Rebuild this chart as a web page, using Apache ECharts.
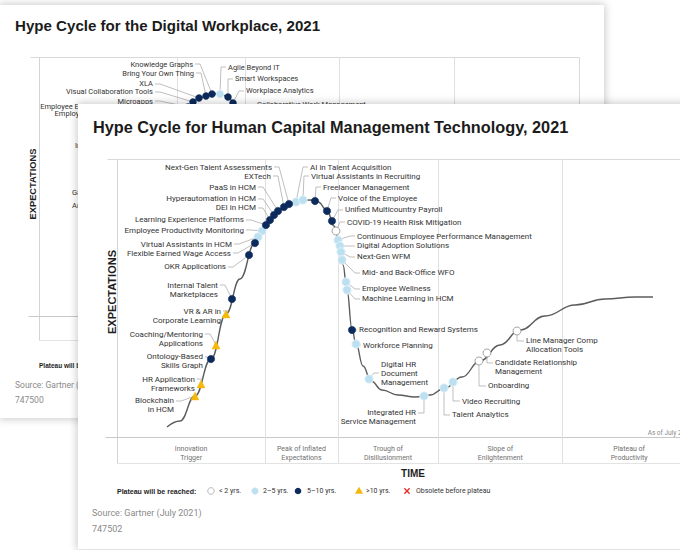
<!DOCTYPE html>
<html>
<head>
<meta charset="utf-8">
<title>Hype Cycles</title>
<script src="https://cdn.jsdelivr.net/npm/echarts/dist/echarts.min.js"></script>
<style>
  html, body { margin:0; padding:0; background:#ffffff; }
  #stage { position:relative; width:680px; height:550px; overflow:hidden; background:#ffffff; }
  .card { position:absolute; background:#ffffff; box-shadow:0 0 8px 1px rgba(0,0,0,0.22); }
  #back { left:0px; top:5px; width:604px; height:413px; }
  #front { left:78px; top:104px; width:640px; height:445px; }
</style>
</head>
<body>
<div id="stage">
  <div id="back" class="card"></div>
  <div id="front" class="card"></div>
</div>
<script>
// ================= DATA =================
const plateauCats = ['<2', '2-5', '5-10', '>10'];
const legendLabels = ['< 2 yrs.', '2–5 yrs.', '5–10 yrs.', '>10 yrs.', 'Obsolete before plateau'];
const phaseNames = ['Innovation\nTrigger', 'Peak of Inflated\nExpectations', 'Trough of\nDisillusionment', 'Slope of\nEnlightenment', 'Plateau of\nProductivity'];
const phaseBounds = [0, 25.6, 38.1, 55.5, 76.9, 100];

// Front: Human Capital Management Technology
const hcmTitle = 'Hype Cycle for Human Capital Management Technology, 2021';
const hcmSourceId = '747502';
const hcmCurveX = [8.64,10.88,13.47,16.23,18.83,21.24,23.83,25.73,27.81,29.71,31.61,33.33,34.72,36.27,37.48,38.34,39.03,39.72,40.59,41.28,42.49,43.87,45.77,48.53,51.47,54.06,56.65,59.59,62.69,66.15,69.60,73.92,79.10,84.28,89.46,92.57];
const hcmCurveY = [3.60,5.76,14.75,28.06,44.24,56.83,69.78,76.26,81.29,83.81,85.07,85.25,84.53,81.65,75.90,69.78,61.87,52.88,38.85,33.45,25.54,20.14,16.91,15.11,14.39,15.11,17.63,21.58,27.34,33.09,38.49,43.53,47.48,49.64,50.36,50.36];
const hcmNames = [
  'Next-Gen Talent Assessments','EXTech','PaaS in HCM','Hyperautomation in HCM','DEI in HCM',
  'Learning Experience Platforms','Employee Productivity Monitoring','Virtual Assistants in HCM',
  'Flexible Earned Wage Access','OKR Applications','Internal Talent\nMarketplaces',
  'VR & AR in\nCorporate Learning','Coaching/Mentoring\nApplications','Ontology-Based\nSkills Graph',
  'HR Application\nFrameworks','Blockchain\nin HCM',
  'AI in Talent Acquisition','Virtual Assistants in Recruiting','Freelancer Management',
  'Voice of the Employee','Unified Multicountry Payroll','COVID-19 Health Risk Mitigation',
  'Continuous Employee Performance Management','Digital Adoption Solutions','Next-Gen WFM',
  'Mid- and Back-Office WFO','Employee Wellness','Machine Learning in HCM',
  'Recognition and Reward Systems','Workforce Planning','Digital HR\nDocument\nManagement',
  'Integrated HR\nService Management','Talent Analytics','Video Recruiting','Onboarding',
  'Candidate Relationship\nManagement','Line Manager Comp\nAllocation Tools'];
const hcmTime = [29.71,28.84,27.81,27.12,26.42,25.73,25.04,24.35,23.83,22.80,19.86,18.83,17.10,16.23,14.51,13.47,
  30.92,32.12,34.20,36.27,37.13,37.82,38.17,38.51,38.69,38.86,39.55,39.72,40.59,41.28,43.52,53.02,56.48,58.03,62.52,63.90,69.08];
const hcmExpect = [83.81,82.73,81.29,79.86,78.06,76.26,74.10,71.94,69.78,65.47,49.64,44.24,33.09,28.06,19.06,14.75,
  84.53,85.25,84.89,81.29,77.70,74.10,70.86,68.71,66.55,63.67,55.76,52.88,38.49,33.45,20.86,14.75,17.63,19.78,27.34,30.22,38.13];
const hcmPlateau = ['5-10','5-10','5-10','5-10','5-10','5-10','2-5','2-5','5-10','5-10','5-10','>10','>10','5-10','>10','>10',
  '2-5','2-5','5-10','5-10','5-10','<2','2-5','2-5','2-5','2-5','2-5','2-5','5-10','2-5','2-5','2-5','2-5','2-5','<2','<2','<2'];

// Back: Digital Workplace (mostly covered by the front card)
const dwTitle = 'Hype Cycle for the Digital Workplace, 2021';
const dwSourceId = '747500';
const dwCurveX = [15.00,18.70,22.41,25.19,27.59,29.63,32.04,33.52,35.00,36.67,38.52,40.56,43.15,46.85,53.89,63.15,74.26,85.37,93.70];
const dwCurveY = [6.18,20.85,48.65,69.88,80.69,84.17,85.71,85.91,84.56,79.54,69.88,48.65,25.48,13.13,10.04,16.99,29.34,36.29,39.00];
const dwNames = ['Microapps','Visual Collaboration Tools','XLA','Bring Your Own Thing','Knowledge Graphs',
  'Agile Beyond IT','Smart Workspaces','Workplace Analytics','Collaborative Work Management'];
const dwTime = [27.59,28.52,29.63,30.93,32.04,33.52,35.00,35.93,36.67];
const dwExpect = [80.69,82.63,84.17,84.94,85.71,85.71,84.56,82.24,79.54];
const dwPlateau = ['5-10','5-10','5-10','5-10','5-10','2-5','5-10','5-10','5-10'];
const dwPartialLabels = ['Employee Experience Platforms\nEmployee Communications','Insight Engines','Gamification','Anywhere Operations'];

// ================= LAYOUT / STYLE =================
const LABEL_FONT = 'Roboto, "Noto Sans", sans-serif';
const TITLE_FONT = '"Liberation Sans", Arial, sans-serif';
const markStyle = {
  '<2':  { symbol:'circle',   size:8,   fill:'#ffffff', stroke:'#8e8e8e', lw:0.8 },
  '2-5': { symbol:'circle',   size:8.5, fill:'#bde0f1', stroke:'#e9f5fb', lw:0.8 },
  '5-10':{ symbol:'circle',   size:7.5, fill:'#0c2a5b', stroke:'#0c2a5b', lw:0.4 },
  '>10': { symbol:'triangle', size:8,   fill:'#f4b90b', stroke:'#f4b90b', lw:0.4 }
};

// label offsets from each mark: [dx, dy, side, leaderLineIndex, tickLength]
const hcmLabelLayout = [
  [-17,-37],[-13,-31],[-22,-24],[-18,-16],[-14,-12],[-22,-5],[-18,-1],[-26,7],[-24,10],[-23,12],
  [-14,-14],[-5,-3],[-13,-11],[-8,-2],[-6,-5],[-21,5],
  [14,-35],[8,-24],[8,-14],[11,-13],[13,-11],[11,-9],[19,-4],[17,0],[16,5],[20,13],[16,7],[15,9],
  [7,0,'R',0,5],[7,1,'R',0,5],[12,-6,'R',1,5],[-8,17,'L',0,6],[8,27,'R',0,6],[9,19,'R',0,7],[9,25,'R',0,7],[8,10,'R',0,6],[9,10,'R',0,7]
];
const dwLabelLayout = [[-35,-6],[-40,-10],[-46,-14],[-12,-23],[-19,-30],[8,-27],[7,-18],[13,-12],[20,-5]];

const frontLayout = {
  full:true,
  grid:[39, 55, 579, 278], labelSize:8, lh:9, curveW:1.4, markScale:1,
  titleX:15, titleY:23, titleSize:16.3, ext:10, boxH:26,
  phaseDy:15.5, phaseSize:7, phaseLH:9, asOfSize:6.5, asOfDy:5,
  timeX:335, timeDy:10, timeSize:10, expX:34, expY:188, expSize:11,
  legendX:39, legendY:387, legSize:7, legR:3.3,
  legSym:[133,177,220,281,329], legTxt:[141,185,229,288,338],
  srcX:14, srcY:409, idY:425, srcSize:9, partial:[]
};
const backLayout = {
  full:false,
  grid:[39, 52, 540, 259], labelSize:7.5, lh:8.4, curveW:1.3, markScale:0.94,
  titleX:15, titleY:20, titleSize:15.1, ext:9, boxH:24,
  phaseDy:14.5, phaseSize:6.5, phaseLH:8.4, asOfSize:6, asOfDy:5,
  timeX:309, timeDy:9, timeSize:9.3, expX:33, expY:179, expSize:9.3,
  legendX:39, legendY:360, legSize:6.5, legR:3,
  legSym:[], legTxt:[],
  srcX:15, srcY:380, idY:395, srcSize:8.5,
  partial:[[146,105,'right',6.5],[75,140,'left'],[72,187,'left'],[72,200,'left']]
};

// ================= DRAW =================
function gline(x1,y1,x2,y2,color,w){
  return { type:'line', silent:true, shape:{x1:x1,y1:y1,x2:x2,y2:y2}, style:{stroke:color, lineWidth:w||1} };
}
function gtext(x,y,str,size,o){
  o = o || {};
  const align = o.align || 'left', valign = o.valign || 'middle';
  const st = { text:str, font:(o.bold?'bold ':'') + size + 'px ' + (o.family||LABEL_FONT),
    fill:o.color||'#333333', textAlign:align, textVerticalAlign:valign, align:align, verticalAlign:valign };
  if (o.lh) st.lineHeight = o.lh;
  return { type:'text', silent:true, x:x, y:y, rotation:o.rot||0, style:st };
}

function buildHype(domId, D, L){
  const chart = echarts.init(document.getElementById(domId), null, {renderer:'svg'});
  const n = D.names.length;
  const series = [];
  series.push({
    type:'line', data:D.curveX.map((x,i)=>[x, D.curveY[i]]), smooth:0.45, smoothMonotone:'x',
    symbol:'none', silent:true, z:2, lineStyle:{color:'#5c5c5c', width:L.curveW}
  });
  series.push({
    type:'custom', z:3, silent:true, clip:false,
    data:D.x.map((x,i)=>[x, D.y[i]]),
    renderItem:function(params, api){
      const i = params.dataIndex;
      const c = api.coord([api.value(0), api.value(1)]);
      const o = D.layout[i];
      const side = o[2] || (o[0] < 0 ? 'L' : 'R');
      const lead = o[3] || 0;
      const tick = (o[4] === undefined) ? 5 : o[4];
      const ax = c[0] + o[0], ay = c[1] + o[1];
      const s = side === 'L' ? 1 : -1;
      const align = side === 'L' ? 'right' : 'left';
      return { type:'group', children:[
        { type:'polyline', shape:{ points:[[ax + s*2, ay], [ax + s*(2+tick), ay], [c[0], c[1]]] },
          style:{ stroke:'#a3a3a3', lineWidth:0.7, fill:'none' } },
        { type:'text', style:{ text:D.names[i], x:ax, y:ay - L.lh*(lead+0.5),
          textAlign:align, textVerticalAlign:'top', align:align, verticalAlign:'top',
          font:L.labelSize + 'px ' + LABEL_FONT, fill:'#333333', lineHeight:L.lh } }
      ]};
    }
  });
  plateauCats.forEach(function(cat){
    const st = markStyle[cat];
    const data = [];
    for (let i=0;i<n;i++) if (D.plateau[i]===cat) data.push([D.x[i], D.y[i]]);
    series.push({ type:'scatter', name:cat, z:4, silent:true, data:data,
      symbol:st.symbol, symbolSize:st.size*L.markScale,
      itemStyle:{ color:st.fill, borderColor:st.stroke, borderWidth:st.lw, opacity:1 } });
  });
  chart.setOption({
    animation:false,
    grid:{ left:L.grid[0], top:L.grid[1], width:L.grid[2], height:L.grid[3] },
    xAxis:{ type:'value', min:0, max:100, show:false },
    yAxis:{ type:'value', min:0, max:100, show:false },
    series:series
  });

  const px = v => chart.convertToPixel({xAxisIndex:0}, v);
  const py = v => chart.convertToPixel({yAxisIndex:0}, v);
  const xL = Math.round(px(0)) + 0.5, xR = Math.round(px(100)) + 0.5;
  const yT = Math.round(py(100)) + 0.5, yB = Math.round(py(0)) + 0.5;
  const boxB = yB + L.boxH;
  const els = [];
  els.push(gline(xL - L.ext, yT, xR, yT, '#d9d9d9'));
  els.push(gline(xL, yT, xL, boxB, '#d4d4d4'));
  els.push(gline(xR, yT, xR, boxB, '#d9d9d9'));
  els.push(gline(xL - L.ext - 2, yB, xR, yB, '#c8c8c8'));
  els.push(gline(xL, boxB, xR, boxB, '#e3e3e3'));
  for (let k=1;k<phaseBounds.length-1;k++){
    const x = Math.round(px(phaseBounds[k])) + 0.5;
    els.push(gline(x, yT, x, boxB, '#e0e0e0'));
  }
  els.push(gtext(L.expX, L.expY, 'EXPECTATIONS', L.expSize, {bold:true, family:TITLE_FONT, align:'center', rot:Math.PI/2, color:'#1e1e1e'}));
  els.push(gtext(L.titleX, L.titleY, D.title, L.titleSize, {bold:true, family:TITLE_FONT, color:'#1b1b1b'}));
  const ly = L.legendY, r = L.legR;
  els.push(gtext(L.legendX, ly, 'Plateau will be reached:', L.legSize, {bold:true, family:TITLE_FONT, color:'#1e1e1e'}));
  if (L.full) {
    for (let k=0;k<phaseNames.length;k++){
      const cx = (px(phaseBounds[k]) + px(phaseBounds[k+1]))/2;
      els.push(gtext(cx, yB + L.phaseDy, phaseNames[k], L.phaseSize, {align:'center', color:'#707070', lh:L.phaseLH}));
    }
    els.push(gtext(xR - 4, yB - L.asOfDy, 'As of July 2021', L.asOfSize, {align:'right', color:'#8a8a8a'}));
    els.push(gtext(L.timeX, boxB + L.timeDy, 'TIME', L.timeSize, {bold:true, family:TITLE_FONT, align:'center', color:'#1e1e1e'}));
    els.push({ type:'circle', silent:true, shape:{cx:L.legSym[0], cy:ly, r:r}, style:{fill:'#ffffff', stroke:'#9a9a9a', lineWidth:0.7} });
    els.push({ type:'circle', silent:true, shape:{cx:L.legSym[1], cy:ly, r:r}, style:{fill:'#bde0f1', stroke:'#bde0f1', lineWidth:0.5} });
    els.push({ type:'circle', silent:true, shape:{cx:L.legSym[2], cy:ly, r:r}, style:{fill:'#0c2a5b'} });
    const tx0 = L.legSym[3];
    els.push({ type:'polygon', silent:true, shape:{points:[[tx0, ly-r-1],[tx0+r+0.8, ly+r*0.8],[tx0-r-0.8, ly+r*0.8]]}, style:{fill:'#f4b90b'} });
    const xx = L.legSym[4], xs = r*0.8;
    els.push(gline(xx-xs, ly-xs, xx+xs, ly+xs, '#e0312b', 1.4));
    els.push(gline(xx-xs, ly+xs, xx+xs, ly-xs, '#e0312b', 1.4));
    for (let k=0;k<legendLabels.length;k++){
      els.push(gtext(L.legTxt[k], ly, legendLabels[k], L.legSize, {color:'#333333'}));
    }
  }
  els.push(gtext(L.srcX, L.srcY, 'Source: Gartner (July 2021)', L.srcSize, {color:'#8a8a8a'}));
  els.push(gtext(L.srcX, L.idY, D.sourceId, L.srcSize, {color:'#8a8a8a'}));
  for (let k=0;k<L.partial.length && k<D.partialLabels.length;k++){
    const p = L.partial[k];
    els.push(gtext(p[0], p[1], D.partialLabels[k], L.labelSize, {color:'#333333', align:p[2], lh:p[3] || 7}));
  }
  chart.setOption({ graphic:{ elements:els } });
  return chart;
}

buildHype('back', {
  title:dwTitle, sourceId:dwSourceId, curveX:dwCurveX, curveY:dwCurveY,
  names:dwNames, x:dwTime, y:dwExpect, plateau:dwPlateau, layout:dwLabelLayout, partialLabels:dwPartialLabels
}, backLayout);

buildHype('front', {
  title:hcmTitle, sourceId:hcmSourceId, curveX:hcmCurveX, curveY:hcmCurveY,
  names:hcmNames, x:hcmTime, y:hcmExpect, plateau:hcmPlateau, layout:hcmLabelLayout, partialLabels:[]
}, frontLayout);
</script>
</body>
</html>
